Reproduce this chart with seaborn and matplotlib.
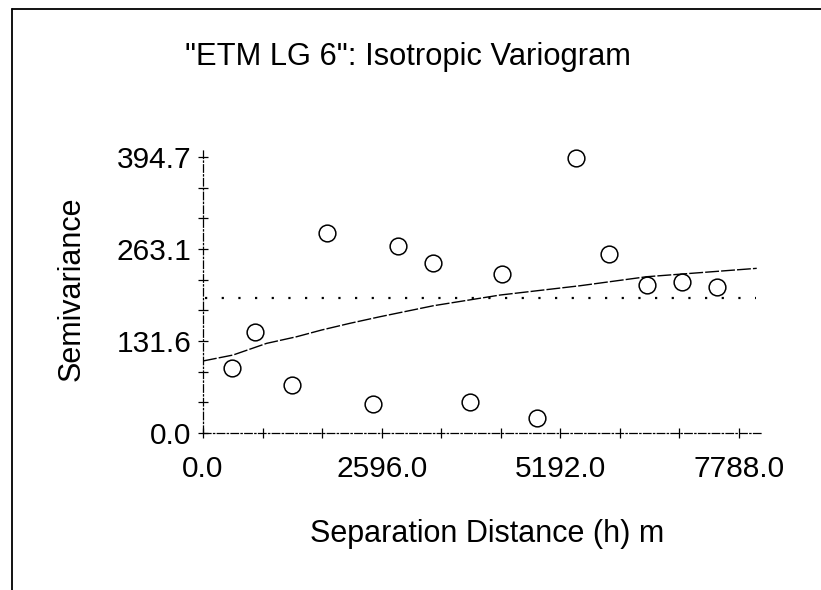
import matplotlib
matplotlib.use("Agg")
import matplotlib.pyplot as plt
from matplotlib.lines import Line2D
from matplotlib.ticker import FixedLocator
import seaborn as sns
import pandas as pd

# ---- data ----
lag_distance = [426, 756, 1298, 1797, 2466, 2838, 3338, 3880, 4340, 4849,
                5420, 5899, 6447, 6956, 7473]
semivariance = [92.5, 144.9, 68.6, 286.4, 41.0, 267.4, 242.7, 44.8, 227.4, 21.0,
                392.8, 255.5, 211.6, 215.5, 208.3]

model_distance = [0, 436, 925, 1361, 1724, 2136, 2572, 3347, 4316, 5478, 6447, 8046]
model_gamma = [103.0, 111.5, 128.2, 137.7, 147.3, 156.9, 166.3, 182.0, 197.3,
               210.6, 223.5, 235.5]

sill_distance = [30, 8035]
sill_gamma = [192.6, 192.6]

x_major = [0.0, 2596.0, 5192.0, 7788.0]
x_labels = ["0.0", "2596.0", "5192.0", "7788.0"]
y_major = [0.0, 131.57, 263.13, 394.7]
y_labels = ["0.0", "131.6", "263.1", "394.7"]

title = '"ETM LG 6": Isotropic Variogram'
xlabel = "Separation Distance (h) m"
ylabel = "Semivariance"

# ---- style ----
sns.set_style("white")
plt.rcParams["font.family"] = ["Liberation Sans", "DejaVu Sans"]

fig = plt.figure(figsize=(8.21, 5.90), dpi=100)
ax = fig.add_axes([203 / 821, 157 / 590, 560 / 821, 285 / 590])

pts = pd.DataFrame({"h": lag_distance, "g": semivariance})
model = pd.DataFrame({"h": model_distance, "g": model_gamma})
sill = pd.DataFrame({"h": sill_distance, "g": sill_gamma})

sns.lineplot(data=sill, x="h", y="g", ax=ax, color="black", lw=1.6,
             linestyle=(0, (1, 6.5)))
sns.lineplot(data=model, x="h", y="g", ax=ax, color="black", lw=1.0,
             linestyle=(0, (10, 1.5)))
sns.scatterplot(data=pts, x="h", y="g", ax=ax, marker="o", s=145,
                facecolor="white", edgecolor="black", linewidth=1.1, zorder=5)

ax.set_xlim(0, 8137)
ax.set_ylim(0, 407.6)

ax.xaxis.set_major_locator(FixedLocator(x_major))
ax.set_xticklabels(x_labels)
ax.xaxis.set_minor_locator(FixedLocator([x_major[-1] / 9 * i for i in range(10)]))
ax.yaxis.set_major_locator(FixedLocator(y_major))
ax.set_yticklabels(y_labels)
ax.yaxis.set_minor_locator(FixedLocator([y_major[-1] / 9 * i for i in range(10)]))

ax.tick_params(axis="both", which="both", direction="inout", length=7,
               width=0.9, color="black", labelsize=21.5, labelcolor="black",
               bottom=True, left=True, top=False, right=False)
ax.tick_params(axis="x", which="major", pad=12)
ax.tick_params(axis="y", which="major", pad=5)

for side in ["top", "right"]:
    ax.spines[side].set_visible(False)
for side in ["left", "bottom"]:
    ax.spines[side].set_color("black")
    ax.spines[side].set_linewidth(0.9)
    ax.spines[side].set_linestyle((0, (6, 2, 1, 2)))

ax.set_xlabel(xlabel, fontsize=22, color="black")
ax.set_ylabel(ylabel, fontsize=22, color="black")
ax.xaxis.set_label_coords((487 - 203) / 560, (433 - 534) / 285)
ax.xaxis.label.set_va("center")
ax.yaxis.set_label_coords((71.5 - 203) / 560, (433 - 289) / 285)
ax.yaxis.label.set_va("center")

ax.set_title(title, fontsize=22.2, color="black", x=(408 - 203) / 560,
             y=(433 - 65) / 285, va="center")

# page border (top and left edges of the scanned frame)
fig.add_artist(Line2D([12 / 821, 1.0], [1 - 9 / 590, 1 - 9 / 590],
                      transform=fig.transFigure, color="black", lw=1.3))
fig.add_artist(Line2D([12 / 821, 12 / 821], [0.0, 1 - 9 / 590],
                      transform=fig.transFigure, color="black", lw=1.3))

fig.savefig("out.png", dpi=100, facecolor="white")
